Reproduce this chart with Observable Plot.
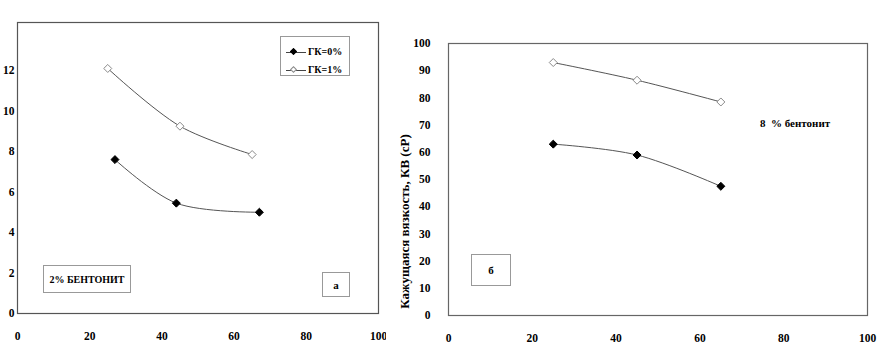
<!DOCTYPE html>
<html><head><meta charset="utf-8">
<script src="https://cdn.jsdelivr.net/npm/d3@7"></script>
<script src="https://cdn.jsdelivr.net/npm/@observablehq/plot@0.6"></script>
<style>
body{margin:0;background:#fff;}
#wrap{position:relative;width:886px;height:349px;font-family:"Liberation Serif","Times New Roman",serif;font-weight:bold;color:#000;overflow:hidden;}
#wrap svg{position:absolute;top:0;}
.box{position:absolute;border:1px solid #999;background:#fff;box-sizing:border-box;display:flex;align-items:center;justify-content:center;font-size:10px;}
.note{position:absolute;white-space:pre;font-size:11px;line-height:1;}
.lrow{position:absolute;left:0;width:70px;height:14px;}
.lline{position:absolute;left:5px;width:20px;top:7px;border-top:1px solid #444;}
.lmark{position:absolute;left:10px;top:4px;width:5px;height:5px;transform:rotate(45deg);box-sizing:border-box;}
.ltext{position:absolute;left:27px;top:0;font-size:10px;line-height:14px;}
</style></head><body><div id="wrap"></div>
<script>
// ---- data ----
const seriesNames = ["ГК=0%", "ГК=1%"];
const leftX0 = [27, 44, 67];
const leftGK0 = [7.6, 5.45, 5.0];
const leftX1 = [25, 45, 65];
const leftGK1 = [12.1, 9.25, 7.85];
const rightX = [25, 45, 65];
const rightGK0 = [63, 59, 47.5];
const rightGK1 = [93, 86.5, 78.5];
const xTicks = [0, 20, 40, 60, 80, 100];
const leftYTicks = [0, 2, 4, 6, 8, 10, 12];
const rightYTicks = [0, 10, 20, 30, 40, 50, 60, 70, 80, 90, 100];
const yTitle = "Кажущаяся вязкость, КВ (сР)";
const leftNote = "2% БЕНТОНИТ";
const rightNote = "8  % бентонит";
const leftTag = "а";
const rightTag = "б";

const leftData = [
  ...leftX0.map((x, i) => ({x, y: leftGK0[i], s: seriesNames[0]})),
  ...leftX1.map((x, i) => ({x, y: leftGK1[i], s: seriesNames[1]}))
];
const rightData = [
  ...rightX.map((x, i) => ({x, y: rightGK0[i], s: seriesNames[0]})),
  ...rightX.map((x, i) => ({x, y: rightGK1[i], s: seriesNames[1]}))
];

const style = {background: "transparent", fontFamily: "'Liberation Serif','Times New Roman',serif", fontWeight: "bold", fontSize: "11.5px", color: "#000"};

function seriesMarks(data) {
  return [
    Plot.line(data, {x: "x", y: "y", z: "s", curve: "catmull-rom", stroke: "#555", strokeWidth: 1}),
    Plot.dot(data.filter(d => d.s === seriesNames[1]), {x: "x", y: "y", symbol: "diamond2", r: 3.6, fill: "#fff", stroke: "#8a8a8a", strokeWidth: 1}),
    Plot.dot(data.filter(d => d.s === seriesNames[0]), {x: "x", y: "y", symbol: "diamond2", r: 3.6, fill: "#000", stroke: "#000", strokeWidth: 1})
  ];
}

const left = Plot.plot({
  width: 386, height: 349,
  marginLeft: 17, marginRight: 8, marginTop: 22, marginBottom: 36,
  x: {domain: [0, 100]},
  y: {domain: [0, 14.37]},
  style,
  marks: [
    Plot.frame({stroke: "#555", strokeWidth: 1.2}),
    Plot.axisX({ticks: xTicks, tickSize: 0, tickPadding: 18, label: null}),
    Plot.axisY({ticks: leftYTicks, tickSize: 0, tickPadding: 3, label: null}),
    ...seriesMarks(leftData)
  ]
});
left.style.left = "0px";

const right = Plot.plot({
  width: 500, height: 349,
  marginLeft: 62, marginRight: 19, marginTop: 43, marginBottom: 34,
  x: {domain: [0, 100]},
  y: {domain: [0, 100]},
  style,
  marks: [
    Plot.frame({stroke: "#666", strokeWidth: 1.2}),
    Plot.axisX({ticks: xTicks, tickSize: 0, tickPadding: 18, label: null}),
    Plot.axisY({ticks: rightYTicks, tickSize: 0, tickPadding: 18, label: null}),
    Plot.text([yTitle], {text: d => d, frameAnchor: "left", textAnchor: "middle", rotate: -90, dx: -44, dy: 42, fontSize: 13}),
    ...seriesMarks(rightData)
  ]
});
right.style.left = "386px";

const wrap = document.getElementById("wrap");
wrap.appendChild(left);
wrap.appendChild(right);

function addBox(text, l, t, w, h, fs) {
  const b = document.createElement("div");
  b.className = "box";
  b.style.cssText = `left:${l}px;top:${t}px;width:${w}px;height:${h}px;font-size:${fs}px;`;
  b.textContent = text;
  wrap.appendChild(b);
}
addBox(leftNote, 43, 265, 88, 28, 10);
addBox(leftTag, 322, 272, 28, 25, 11);
addBox(rightTag, 471, 254, 40, 32, 11);

const n = document.createElement("div");
n.className = "note";
n.style.cssText = "left:760px;top:118px;";
n.textContent = rightNote;
wrap.appendChild(n);

// legend
const lg = document.createElement("div");
lg.className = "box";
lg.style.cssText = "left:280px;top:36px;width:70px;height:40px;display:block;";
[[seriesNames[0], "#000", "#000", 8], [seriesNames[1], "#fff", "#8a8a8a", 26]].forEach(([name, fill, stroke, top]) => {
  const row = document.createElement("div");
  row.className = "lrow";
  row.style.top = top + "px";
  row.innerHTML = `<div class="lline"></div><div class="lmark" style="background:${fill};border:1px solid ${stroke}"></div><div class="ltext"></div>`;
  row.querySelector(".ltext").textContent = name;
  lg.appendChild(row);
});
wrap.appendChild(lg);
</script></body></html>
